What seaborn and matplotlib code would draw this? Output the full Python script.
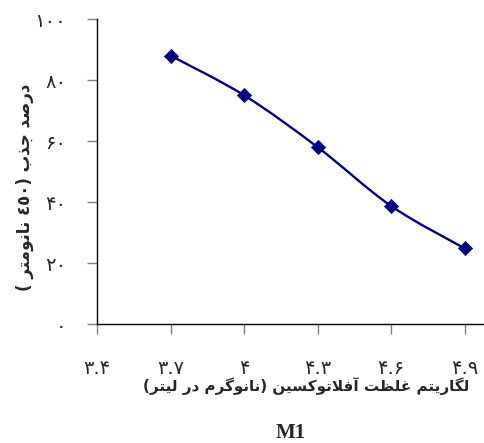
import matplotlib
matplotlib.use("Agg")
import matplotlib.pyplot as plt
from matplotlib.path import Path
from matplotlib.patches import PathPatch
import seaborn as sns
import pandas as pd

# données
log_conc = [3.7, 4.0, 4.3, 4.6, 4.9]
absorption = [88, 75, 58, 38.7, 24.8]
x_ticks = [3.4, 3.7, 4.0, 4.3, 4.6, 4.9]
x_tick_labels = ["۳.۴", "۳.۷", "۴", "۴.۳", "۴.۶", "۴.۹"]
y_ticks = [0, 20, 40, 60, 80, 100]
y_tick_labels = ["۰", "۲۰", "۴۰", "۶۰", "۸۰", "۱۰۰"]
x_title = "لگاریتم غلظت آفلاتوکسین (نانوگرم در لیتر)"
y_title = "درصد جذب (٤٥٠ نانومتر )"
sub_title = "M1"

# formes contextuelles arabes/persanes (iso, fin, ini, med)
FORMS = {
    "ا": ("\uFE8D", "\uFE8E"), "آ": ("\uFE81", "\uFE82"),
    "د": ("\uFEA9", "\uFEAA"), "ذ": ("\uFEAB", "\uFEAC"),
    "ر": ("\uFEAD", "\uFEAE"), "و": ("\uFEED", "\uFEEE"),
    "ب": ("\uFE8F", "\uFE90", "\uFE91", "\uFE92"),
    "ت": ("\uFE95", "\uFE96", "\uFE97", "\uFE98"),
    "ج": ("\uFE9D", "\uFE9E", "\uFE9F", "\uFEA0"),
    "س": ("\uFEB1", "\uFEB2", "\uFEB3", "\uFEB4"),
    "ص": ("\uFEB9", "\uFEBA", "\uFEBB", "\uFEBC"),
    "ظ": ("\uFEC5", "\uFEC6", "\uFEC7", "\uFEC8"),
    "غ": ("\uFECD", "\uFECE", "\uFECF", "\uFED0"),
    "ف": ("\uFED1", "\uFED2", "\uFED3", "\uFED4"),
    "ل": ("\uFEDD", "\uFEDE", "\uFEDF", "\uFEE0"),
    "م": ("\uFEE1", "\uFEE2", "\uFEE3", "\uFEE4"),
    "ن": ("\uFEE5", "\uFEE6", "\uFEE7", "\uFEE8"),
    "ک": ("\uFB8E", "\uFB8F", "\uFB90", "\uFB91"),
    "گ": ("\uFB92", "\uFB93", "\uFB94", "\uFB95"),
    "ی": ("\uFBFC", "\uFBFD", "\uFBFE", "\uFBFF"),
}
LAM_ALEF = {"ا": ("\uFEFB", "\uFEFC"), "آ": ("\uFEF5", "\uFEF6")}
DIGITS = set("0123456789٠١٢٣٤٥٦٧٨٩۰۱۲۳۴۵۶۷۸۹.")


def joins_left(c):
    return c in FORMS and len(FORMS[c]) == 4


def rtl(text):
    chars = list(text)
    out = []
    i = 0
    while i < len(chars):
        c = chars[i]
        if c not in FORMS:
            out.append(c)
            i += 1
            continue
        prev = chars[i - 1] if i > 0 else ""
        nxt = chars[i + 1] if i + 1 < len(chars) else ""
        cp = joins_left(prev)
        if c == "ل" and nxt in LAM_ALEF:
            out.append(LAM_ALEF[nxt][1 if cp else 0])
            i += 2
            continue
        cn = joins_left(c) and nxt in FORMS
        f = FORMS[c]
        if cp and cn:
            out.append(f[3])
        elif cp:
            out.append(f[1])
        elif cn:
            out.append(f[2])
        else:
            out.append(f[0])
        i += 1
    # ordre visuel : inversion, chiffres gardés de gauche à droite
    vis = out[::-1]
    res = []
    run = []
    for c in vis:
        if c in DIGITS:
            run.append(c)
        else:
            res.extend(run[::-1])
            run = []
            res.append({"(": ")", ")": "("}.get(c, c))
    res.extend(run[::-1])
    return "".join(res)


sns.set_style("ticks")
plt.rcParams["font.family"] = ["DejaVu Sans"]

df = pd.DataFrame({"x": log_conc, "y": absorption})

fig = plt.figure(figsize=(4.84, 4.43), dpi=100)
ax = fig.add_axes([0.2004, 0.2686, 0.80, 0.6885])

# courbe lissée (style Excel) en coordonnées de données
pts = list(zip(log_conc, absorption))
verts = [pts[0]]
codes = [Path.MOVETO]
for k in range(len(pts) - 1):
    p0 = pts[k - 1] if k > 0 else pts[k]
    p1 = pts[k]
    p2 = pts[k + 1]
    p3 = pts[k + 2] if k + 2 < len(pts) else pts[k + 1]
    c1 = (p1[0] + (p2[0] - p0[0]) / 6, p1[1] + (p2[1] - p0[1]) / 6)
    c2 = (p2[0] - (p3[0] - p1[0]) / 6, p2[1] - (p3[1] - p1[1]) / 6)
    verts += [c1, c2, p2]
    codes += [Path.CURVE4] * 3
ax.add_patch(PathPatch(Path(verts, codes), fill=False, edgecolor="#000080",
                       lw=1.7, transform=ax.transData))

sns.scatterplot(data=df, x="x", y="y", marker="D", s=52, color="#000080",
                edgecolor="#000080", linewidth=0.5, ax=ax, zorder=3)

ax.set_xlim(3.4, 4.98)
ax.set_ylim(0, 100)
ax.set_xticks(x_ticks)
ax.set_xticklabels(x_tick_labels, fontsize=14)
ax.set_yticks(y_ticks)
ax.set_yticklabels(y_tick_labels, fontsize=14)
ax.tick_params(axis="both", length=7, width=1, color="#808080")
ax.tick_params(axis="x", pad=18.5)
ax.tick_params(axis="y", pad=15)
ax.set_xlabel("")
ax.set_ylabel("")
sns.despine(ax=ax)
for s in ["left", "bottom"]:
    ax.spines[s].set_color("black")
    ax.spines[s].set_linewidth(1)

fig.text(0.052, 0.578, rtl(y_title), rotation=90, ha="center", va="center",
         fontsize=12, fontweight="bold")
fig.text(0.633, 0.129, rtl(x_title), ha="center", va="center",
         fontsize=10.9, fontweight="bold")
fig.text(0.600, 0.022, sub_title, ha="center", va="center", fontsize=15,
         fontweight="bold", family="Liberation Serif")

fig.savefig("out.png", dpi=100)
